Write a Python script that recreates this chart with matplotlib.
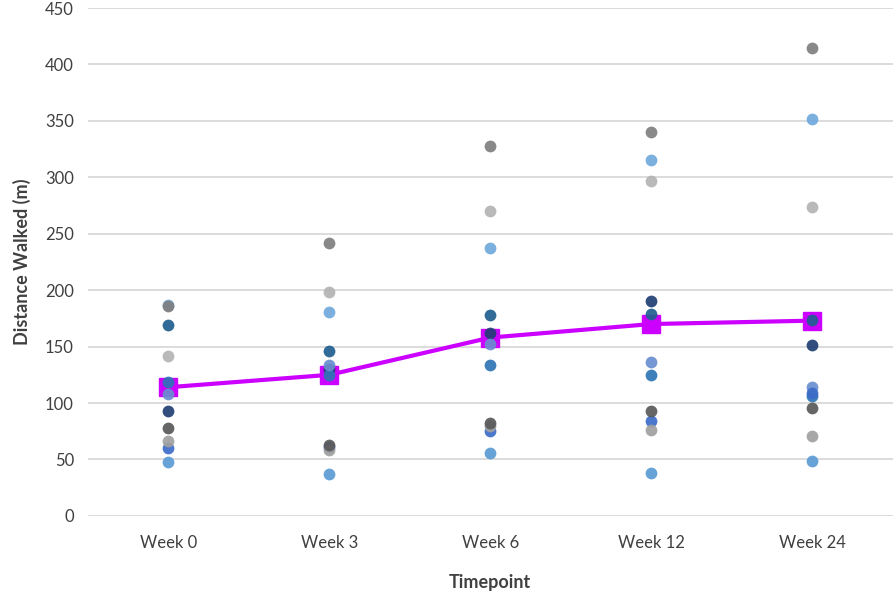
import matplotlib.pyplot as plt

timepoints = ["Week 0", "Week 3", "Week 6", "Week 12", "Week 24"]

# distance walked (m) per patient, one list per patient
patients = {
    "P3": [187, 181, 237, 315, 352],
    "P1": [186, 242, 328, 340, 415],
    "P2": [142, 198, 270, 297, 274],
    "P4": [169, 146, 178, 179, 174],
    "P5": [93, 130, 162, 190, 151],
    "P6": [119, 125, 134, 125, 106],
    "P7": [108, 134, 152, 136, 114],
    "P10": [60, 61, 75, 84, 109],
    "P9": [66, 58, 80, 76, 71],
    "P8": [78, 63, 82, 93, 96],
    "P11": [48, 37, 56, 38, 49],
}
patient_colors = {
    "P1": "#7f7f7f",
    "P2": "#b3b3b3",
    "P3": "#6fa8dc",
    "P4": "#1f5f8f",
    "P5": "#203f73",
    "P6": "#2e75b6",
    "P7": "#698ed0",
    "P8": "#595959",
    "P9": "#a0a0a0",
    "P10": "#3b6cc8",
    "P11": "#5b9bd5",
}

mean_values = [114, 125, 158, 170, 173]

plt.rcParams["font.family"] = ["Lato", "DejaVu Sans"]

fig = plt.figure(figsize=(8.96, 5.93), dpi=100)
ax = fig.add_axes([0.098, 0.13, 0.8985, 0.8565])

x = list(range(len(timepoints)))

ax.plot(
    x,
    mean_values,
    color="#cc00ff",
    linewidth=3,
    marker="s",
    markersize=13,
    zorder=2
)

for name, values in patients.items():
    ax.scatter(
        x,
        values,
        s=72,
        color=patient_colors[name],
        alpha=0.92,
        linewidths=0,
        zorder=3
    )

ax.set_xlim(-0.5, 4.5)
ax.set_ylim(0, 450)
ax.set_yticks(range(0, 451, 50))
ax.set_xticks(x)
ax.set_xticklabels(timepoints)

ax.grid(axis="y", color="#d9d9d9", linewidth=1.3)
ax.set_axisbelow(True)
for spine in ax.spines.values():
    spine.set_visible(False)
ax.tick_params(length=0, labelsize=12, colors="#404040", pad=10)
ax.tick_params(axis="x", pad=14)

ax.set_xlabel("Timepoint", fontsize=13, fontweight="bold", color="#404040", labelpad=16)
ax.set_ylabel("Distance Walked (m)", fontsize=13, fontweight="bold", color="#404040", labelpad=10)

plt.savefig("out.png", dpi=100)
plt.close()
